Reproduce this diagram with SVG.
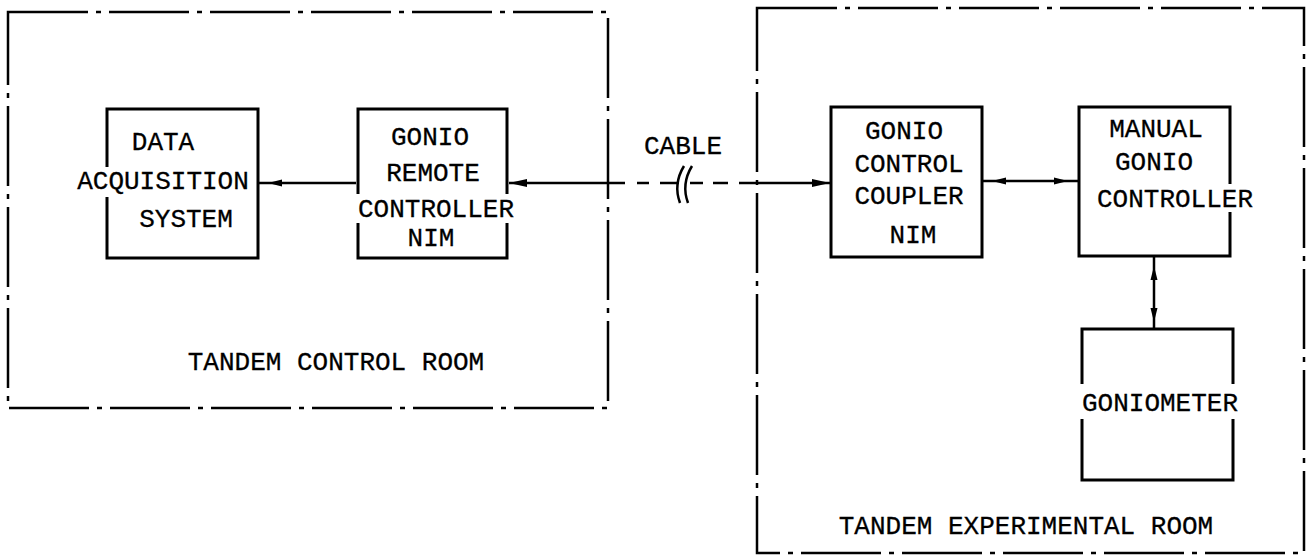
<svg xmlns="http://www.w3.org/2000/svg" width="1310" height="557" viewBox="0 0 1310 557">
<style>
.room{fill:none;stroke:#000;stroke-width:2.5;stroke-dasharray:80 8 5 8}
.box{fill:none;stroke:#000;stroke-width:3}
.ln{fill:none;stroke:#000;stroke-width:2.5}
text{font-family:"Liberation Mono","Courier New",monospace;font-size:26px;fill:#000;stroke:#000;stroke-width:0.3;text-anchor:middle}
</style>
<defs>
<marker id="ah" viewBox="0 0 18 8" refX="18" refY="4" markerWidth="18" markerHeight="8" markerUnits="userSpaceOnUse" orient="auto-start-reverse">
<path d="M0,0 L18,4 L0,8 Z" fill="#000"/>
</marker>
</defs>
<rect width="1310" height="557" fill="#fff"/>
<g id="control-room">
<rect class="room" x="8" y="12" width="600" height="396"/>
<text x="336" y="370">TANDEM CONTROL ROOM</text>
</g>
<g id="experimental-room">
<rect class="room" x="757" y="8" width="547" height="545"/>
<text x="1026" y="534">TANDEM EXPERIMENTAL ROOM</text>
</g>
<g id="data-acquisition">
<path class="box" d="M107,167 V109 H258 V258 H107 V197"/>
<text x="163" y="150">DATA</text>
<text x="163" y="189">ACQUISITION</text>
<text x="186" y="227">SYSTEM</text>
</g>
<g id="gonio-remote">
<path class="box" d="M358,194 V109 H507 V194 M507,223 V258 H358 V223"/>
<text x="430" y="145">GONIO</text>
<text x="433" y="181">REMOTE</text>
<text x="436" y="217">CONTROLLER</text>
<text x="431" y="246">NIM</text>
</g>
<g id="gonio-coupler">
<rect class="box" x="831" y="107" width="151" height="150"/>
<text x="904" y="139">GONIO</text>
<text x="909" y="172">CONTROL</text>
<text x="909" y="204">COUPLER</text>
<text x="913" y="243">NIM</text>
</g>
<g id="manual-controller">
<path class="box" d="M1230,184 V107 H1079 V256 H1230 V212"/>
<text x="1156" y="137">MANUAL</text>
<text x="1154" y="170">GONIO</text>
<text x="1175" y="207">CONTROLLER</text>
</g>
<g id="goniometer">
<path class="box" d="M1082,384 V329 H1233 V384 M1233,419 V480 H1082 V419"/>
<text x="1160" y="411">GONIOMETER</text>
</g>
<g id="connectors">
<line class="ln" x1="356" y1="183" x2="258" y2="183"/>
<path d="M268,183 L282,179.5 L282,186.5 Z" fill="#000"/>
<line class="ln" x1="625" y1="183" x2="509" y2="183" marker-end="url(#ah)"/>
<line class="ln" x1="637" y1="183" x2="649" y2="183"/>
<line class="ln" x1="660" y1="183" x2="679" y2="183"/>
<path class="ln" d="M684,166 Q673,184 680,203 M692,166 Q681,184 688,203"/>
<line class="ln" x1="690" y1="183" x2="703" y2="183"/>
<line class="ln" x1="713" y1="183" x2="728" y2="183"/>
<line class="ln" x1="739" y1="183" x2="830" y2="183" marker-end="url(#ah)"/>
<text x="683" y="154">CABLE</text>
<line class="ln" x1="982" y1="181" x2="1079" y2="181"/>
<path d="M992,181 L1006,177.5 L1006,184.5 Z" fill="#000"/>
<path d="M1068,181 L1054,177.5 L1054,184.5 Z" fill="#000"/>
<line class="ln" x1="1154" y1="256" x2="1154" y2="329"/>
<path d="M1154,266 L1150.5,280 L1157.5,280 Z" fill="#000"/>
<path d="M1154,322 L1150.5,308 L1157.5,308 Z" fill="#000"/>
</g>
</svg>
